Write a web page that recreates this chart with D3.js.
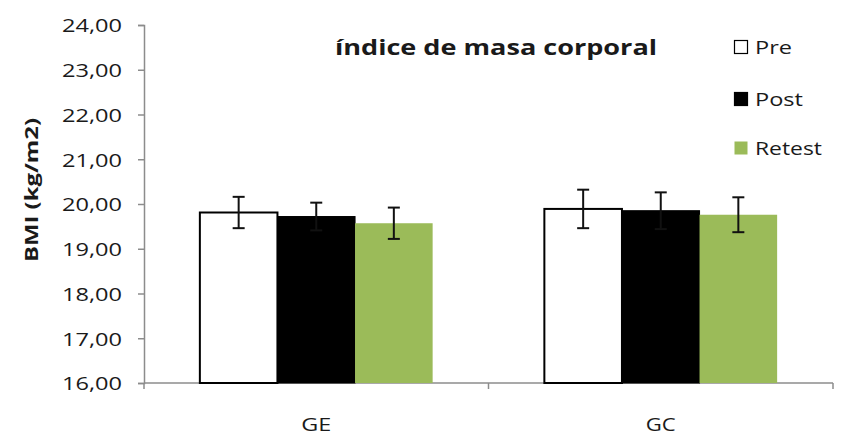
<!DOCTYPE html>
<html>
<head>
<meta charset="utf-8">
<script src="https://cdn.jsdelivr.net/npm/d3@7"></script>
<style>
  html, body { margin: 0; padding: 0; background: #fff; }
  svg { display: block; }
  text { font-family: "Open Sans", "DejaVu Sans", sans-serif; fill: #1a1a1a; }
</style>
</head>
<body>
<svg id="chart" width="843" height="435"></svg>
<script>
// Groups and measurement moments
const groups = ["GE", "GC"];
const series = ["Pre", "Post", "Retest"];
// Mean BMI per group, one array per moment
const preValues = [19.81, 19.89];
const postValues = [19.72, 19.85];
const retestValues = [19.57, 19.76];
// Standard deviations shown as error bars
const preErrors = [0.35, 0.43];
const postErrors = [0.31, 0.41];
const retestErrors = [0.35, 0.39];
const yTicks = [16, 17, 18, 19, 20, 21, 22, 23, 24];

const colors = { Pre: "#ffffff", Post: "#000000", Retest: "#9bbb59" };
const valuesBySeries = { Pre: preValues, Post: postValues, Retest: retestValues };
const errorsBySeries = { Pre: preErrors, Post: postErrors, Retest: retestErrors };

const svg = d3.select("#chart");
const margin = { left: 144, right: 10, top: 25, bottom: 52 };
const W = 843, H = 435;

const y = d3.scaleLinear().domain([16, 24]).range([H - margin.bottom, margin.top]);
const x0 = d3.scaleBand().domain(groups).range([margin.left, W - margin.right]).paddingInner(0).paddingOuter(0);
const x1 = d3.scaleBand().domain(series).range([0, x0.bandwidth()]).paddingInner(0).paddingOuter(0.72);

// Y axis
const yAxis = d3.axisLeft(y).tickValues(yTicks).tickSize(6)
  .tickFormat(d => d3.format(".2f")(d).replace(".", ","));
const gy = svg.append("g").attr("transform", `translate(${margin.left},0)`).call(yAxis);
gy.select(".domain").attr("stroke", "#8c8c8c").attr("stroke-width", 1.5);
gy.selectAll(".tick line").attr("stroke", "#8c8c8c").attr("stroke-width", 1.5);
gy.selectAll(".tick text").attr("x", -22).attr("dy", "0.36em")
  .style("font-size", "19px").attr("textLength", 60).attr("lengthAdjust", "spacingAndGlyphs")
  .attr("fill", "#1a1a1a");

// X axis baseline
const base = y(16);
svg.append("line").attr("x1", margin.left).attr("x2", W - margin.right)
  .attr("y1", base).attr("y2", base).attr("stroke", "#8c8c8c").attr("stroke-width", 1.5);
// category boundary ticks
[margin.left, x0("GC"), W - margin.right].forEach(px => {
  svg.append("line").attr("x1", px).attr("x2", px).attr("y1", base).attr("y2", base + 6)
    .attr("stroke", "#8c8c8c").attr("stroke-width", 1.5);
});

// Bars
const gBars = svg.append("g");
groups.forEach((g, gi) => {
  series.forEach(s => {
    const v = valuesBySeries[s][gi];
    const bx = x0(g) + x1(s);
    gBars.append("rect")
      .attr("x", bx).attr("y", y(v))
      .attr("width", x1.bandwidth()).attr("height", base - y(v))
      .attr("fill", colors[s])
      .attr("stroke", s === "Retest" ? "none" : "#000")
      .attr("stroke-width", s === "Pre" ? 2 : 1);
  });
});

// Error bars
const gErr = svg.append("g").attr("stroke", "#111").attr("stroke-width", 2);
groups.forEach((g, gi) => {
  series.forEach(s => {
    const v = valuesBySeries[s][gi], e = errorsBySeries[s][gi];
    const cx = x0(g) + x1(s) + x1.bandwidth() / 2;
    gErr.append("line").attr("x1", cx).attr("x2", cx).attr("y1", y(v + e)).attr("y2", y(v - e));
    [v + e, v - e].forEach(t => {
      gErr.append("line").attr("x1", cx - 6).attr("x2", cx + 6).attr("y1", y(t)).attr("y2", y(t));
    });
  });
});

// Category labels
groups.forEach(g => {
  svg.append("text").attr("x", x0(g) + x0.bandwidth() / 2).attr("y", 431)
    .attr("text-anchor", "middle").style("font-size", "18px")
    .attr("textLength", 30).attr("lengthAdjust", "spacingAndGlyphs").text(g);
});

// Y axis title
svg.append("text")
  .attr("transform", `translate(38,190) rotate(-90)`)
  .attr("text-anchor", "middle").style("font-size", "17px").style("font-weight", "bold")
  .attr("textLength", 144).attr("lengthAdjust", "spacingAndGlyphs")
  .attr("fill", "#1a1a1a").text("BMI (kg/m2)");

// Title
svg.append("text").attr("x", 496).attr("y", 55).attr("text-anchor", "middle")
  .style("font-size", "22px").style("font-weight", "bold")
  .attr("textLength", 322).attr("lengthAdjust", "spacingAndGlyphs").text("índice de masa corporal");

// Legend
const legendWidths = { Pre: 37, Post: 48, Retest: 67 };
const legend = svg.append("g");
series.forEach((s, i) => {
  const ly = [47, 99, 148][i];
  legend.append("rect").attr("x", 734.5).attr("y", ly - 6.5).attr("width", 13).attr("height", 13)
    .attr("fill", colors[s]).attr("stroke", s === "Retest" ? "none" : "#000").attr("stroke-width", 1.2);
  legend.append("text").attr("x", 755).attr("y", ly).attr("dy", "0.36em")
    .style("font-size", "19px").attr("textLength", legendWidths[s])
    .attr("lengthAdjust", "spacingAndGlyphs").text(s);
});
</script>
</body>
</html>
